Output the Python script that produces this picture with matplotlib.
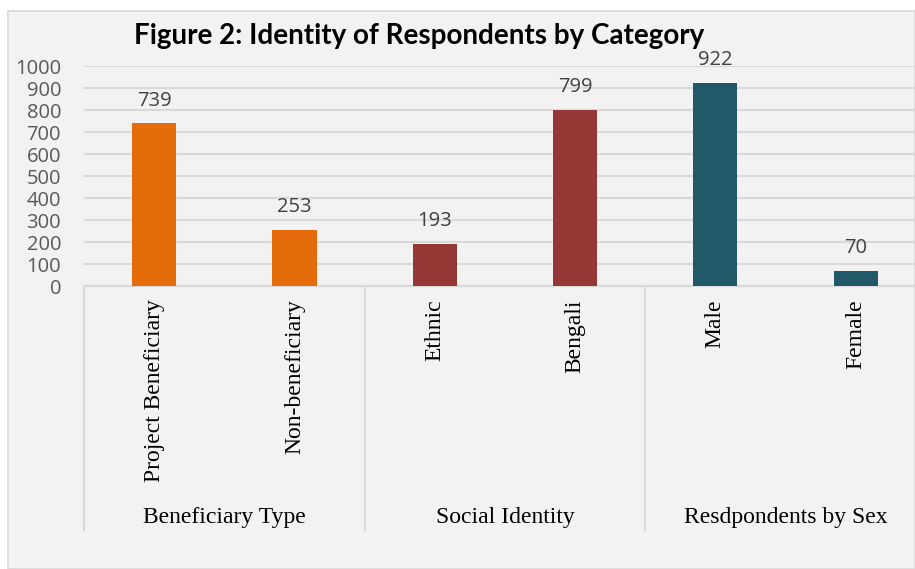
import matplotlib.pyplot as plt
from matplotlib.patches import Rectangle
from matplotlib.transforms import blended_transform_factory

# Survey counts by category
categories = ["Project Beneficiary", "Non-beneficiary", "Ethnic", "Bengali", "Male", "Female"]
counts = [739, 253, 193, 799, 922, 70]
groups = ["Beneficiary Type", "Social Identity", "Resdpondents by Sex"]
bar_colors = ["#E46C0A", "#E46C0A", "#953735", "#953735", "#215968", "#215968"]
yticks = [0, 100, 200, 300, 400, 500, 600, 700, 800, 900, 1000]

W, H = 915, 569
fig = plt.figure(figsize=(W / 100, H / 100), dpi=100, facecolor="white")

# grey chart frame, kept behind the axes
fig.patches.append(Rectangle((8 / W, 0), (W - 8) / W, (H - 11) / H, transform=fig.transFigure,
                             facecolor="#F2F2F2", edgecolor="#D9D9D9", lw=1.2, zorder=-5))

# plot area: x0=84px, baseline at y=286px, 1000 at y=66px, 140.3px per category
ax = fig.add_axes([84 / W, (H - 286) / H, 6 * 140.3 / W, 220 / H])
ax.set_facecolor("none")
ax.set_xlim(-0.5, 5.5)
ax.set_ylim(0, 1000)

x = list(range(len(categories)))
ax.bar(x, counts, width=0.315, color=bar_colors, zorder=3)

for xi, v in zip(x, counts):
    ax.annotate(str(v), (xi, v), xytext=(0, 16.5), textcoords="offset points",
                ha="center", va="center", fontsize=14.5, color="#404040",
                family="Open Sans")

ax.set_yticks(yticks)
ax.set_yticklabels([str(t) for t in yticks], fontsize=14.5, color="#595959", family="Open Sans")
ax.tick_params(axis="y", length=0, pad=16.5)
ax.set_xticks([])
ax.grid(axis="y", color="#D9D9D9", lw=1.5, zorder=1)
for s in ["top", "right", "left"]:
    ax.spines[s].set_visible(False)
ax.spines["bottom"].set_color("#D9D9D9")
ax.spines["bottom"].set_linewidth(1.5)

trans = blended_transform_factory(ax.transData, ax.transAxes)

# category labels, rotated
for xi, c in zip(x, categories):
    ax.text(xi, -0.06, c, transform=trans, rotation=90, ha="center", va="top",
            fontsize=17, family="Liberation Serif", color="black")

# group separators and group labels
for b in [-0.5, 1.5, 3.5, 5.5]:
    ax.plot([b, b], [0, -1.11], transform=trans, color="#D9D9D9", lw=1.5, clip_on=False)
for gi, g in enumerate(groups):
    ax.text(2 * gi + 0.5, -1.05, g, transform=trans, ha="center", va="center",
            fontsize=17, family="Liberation Serif", color="black")

fig.text(419 / W, 1 - 36 / H, "Figure 2: Identity of Respondents by Category",
         ha="center", va="center", fontsize=20, fontweight="bold", family="Lato", color="black")

fig.savefig("out.png", dpi=100, facecolor=fig.get_facecolor())
